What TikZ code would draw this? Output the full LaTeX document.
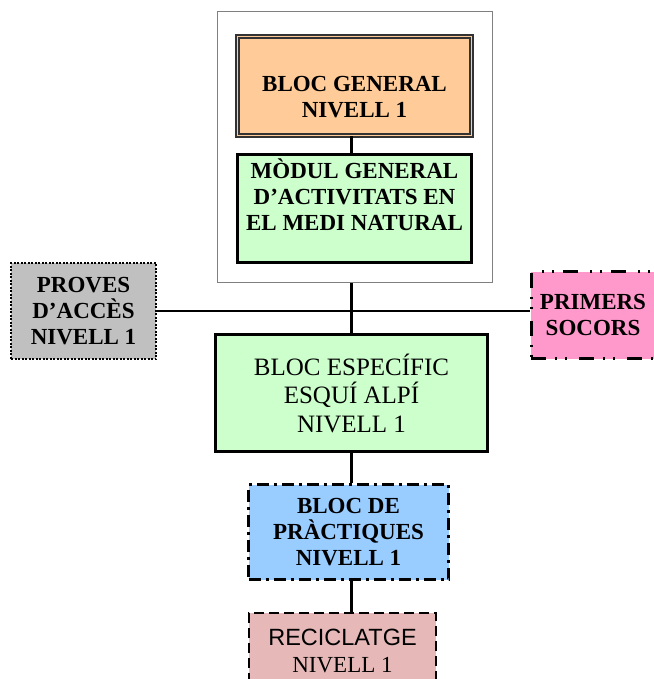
\documentclass[tikz,border=0pt]{standalone}
\usepackage{fontspec}
\setmainfont{Liberation Serif}
\newfontfamily\arialfont{Liberation Sans}
\usetikzlibrary{positioning}
\definecolor{peach}{HTML}{FFCC99}
\definecolor{mint}{HTML}{CCFFCC}
\definecolor{silver}{HTML}{C0C0C0}
\definecolor{rosa}{HTML}{FF99CC}
\definecolor{cel}{HTML}{99CCFF}
\definecolor{rosat}{HTML}{E6B9B8}
\tikzset{
    box/.style={draw, rectangle, inner sep=0pt, align=center,
        font=\fontsize{23}{26}\selectfont\bfseries},
    txt/.style={align=center, inner sep=0pt,
        font=\fontsize{23}{26}\selectfont\bfseries},
    link/.style={line width=3pt},
    thinlink/.style={line width=2pt}
}

\begin{document}
\begin{tikzpicture}[x=1pt, y=-1pt]
    \useasboundingbox (0,0) rectangle (653,679);
    \coordinate (axis) at (351,0);

    \node[draw=black!50, line width=1.8pt, minimum width=275pt, minimum height=271pt]
        (marc) at (355,147) {};
    \node[box, fill=peach, draw=black!80, line width=1.4pt, double=peach, double distance=1.4pt,
        minimum width=234pt, minimum height=99pt] (bgen) at (354.5,86) {};
    \node[txt] (bgentxt) at (354.5,97) {BLOC GENERAL\\NIVELL 1};
    \node[box, fill=mint, line width=2.5pt, minimum width=234pt, minimum height=108pt]
        (mgen) at (354.5,208.5) {};
    \node[txt] (mgentxt) at (354.5,195) {MÒDUL GENERAL\\D’ACTIVITATS EN\\EL MEDI NATURAL};

    \node[box, fill=silver, line width=2.5pt, dash pattern=on 2pt off 1.5pt,
        minimum width=145pt, minimum height=96pt] (proves) at (83.5,311)
        {PROVES\\D’ACCÈS\\NIVELL 1};
    \node[box, fill=rosa, line width=3pt,
        dash pattern=on 15pt off 9pt on 2pt off 8pt on 2pt off 12pt,
        minimum width=124pt, minimum height=87pt] (primers) at (593,315)
        {PRIMERS\\SOCORS};

    \node[box, fill=mint, line width=3pt, minimum width=272pt, minimum height=117pt,
        font=\fontsize{25}{28.5}\selectfont] (besp) at (351.5,393)
        {BLOC ESPECÍFIC\\ESQUÍ ALPÍ\\NIVELL 1};
    \node[box, fill=cel, line width=3pt, dash pattern=on 12pt off 5pt on 3pt off 5pt,
        minimum width=200pt, minimum height=95pt] (prac) at (348.5,532)
        {BLOC DE\\PRÀCTIQUES\\NIVELL 1};
    \node[box, fill=rosat, line width=2pt, dash pattern=on 10pt off 5pt,
        minimum width=187pt, minimum height=76pt, font=\fontsize{23}{27}\selectfont]
        (recic) at (342.5,651) {{\arialfont\fontsize{23.5}{27}\selectfont RECICLATGE}\\NIVELL 1};

    \draw[link] (bgen.south -| axis) -- (mgen.north -| axis);
    \draw[link] (marc.south -| axis) -- (besp.north -| axis);
    \draw[thinlink] (proves.east) -- (proves.east -| primers.west);
    \draw[link] (besp.south -| axis) -- (prac.north -| axis);
    \draw[link] (prac.south -| axis) -- (recic.north -| axis);
\end{tikzpicture}
\end{document}
